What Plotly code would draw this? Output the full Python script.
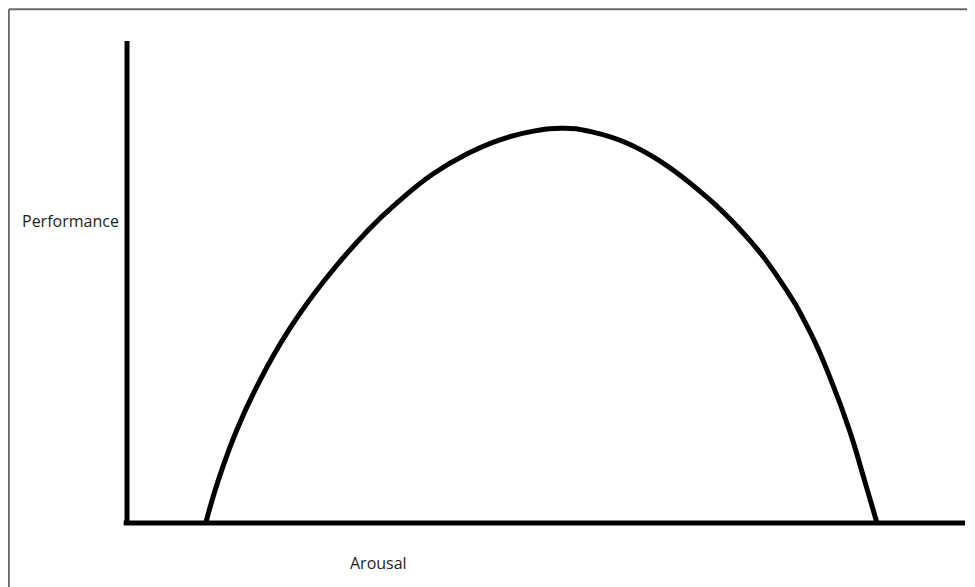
"""Arousal vs performance curve (Yerkes-Dodson style sketch)"""

import plotly.graph_objects as go

# values, both axes on a 0-100 scale
arousal = [9.4, 10.9, 13.1, 15.9, 19.3, 23.6, 28.8, 32.6, 36.5, 40.6, 44.5,
           48.5, 52.3, 55.6, 59.7, 63.6, 67.2, 73.2, 77.9, 81.4, 84.0,
           86.2, 88.0, 89.5]
performance = [0, 8.9, 19.3, 29.7, 40.0, 50.4, 60.8, 67.0, 72.4, 76.6, 79.5,
               81.3, 81.9, 81.1, 78.8, 75.1, 70.5, 60.8, 50.4, 40.0,
               29.7, 19.3, 8.9, 0]

x_label = "Arousal"
y_label = "Performance"

fig = go.Figure()
fig.add_trace(go.Scatter(
    x=arousal,
    y=performance,
    mode="lines",
    line=dict(color="black", width=5, shape="spline", smoothing=1.3),
    hoverinfo="skip",
))

# the page body adds an 8px margin, so the figure is 8px smaller
border = "#6b6b6b"
label_font = dict(family="Open Sans", size=16, color="#1e1e1e")
fig.update_layout(
    width=967,
    height=579,
    margin=dict(l=119, r=10, t=33, b=64),
    paper_bgcolor="white",
    plot_bgcolor="white",
    showlegend=False,
    xaxis=dict(range=[0, 100], visible=False, fixedrange=True),
    yaxis=dict(range=[0, 100], visible=False, fixedrange=True),
    shapes=[
        # axes
        dict(type="line", xref="paper", yref="paper", x0=-0.004, x1=1.0,
             y0=0, y1=0, line=dict(color="black", width=5)),
        dict(type="line", xref="paper", yref="paper", x0=0, x1=0,
             y0=0, y1=1, line=dict(color="black", width=5)),
        # picture frame (top and left only)
        dict(type="line", xref="paper", yref="paper", x0=-0.141, x1=1.05,
             y0=1.066, y1=1.066, line=dict(color=border, width=2)),
        dict(type="line", xref="paper", yref="paper", x0=-0.141, x1=-0.141,
             y0=-0.2, y1=1.066, line=dict(color=border, width=2)),
    ],
    annotations=[
        dict(text=y_label, xref="paper", yref="paper", x=0, y=0.627,
             xanchor="right", yanchor="middle", xshift=-6, showarrow=False,
             font=label_font),
        dict(text=x_label, xref="x", yref="paper", x=30, y=-0.083,
             xanchor="center", yanchor="middle", showarrow=False,
             font=label_font),
    ],
)

fig.write_html("out.html")
